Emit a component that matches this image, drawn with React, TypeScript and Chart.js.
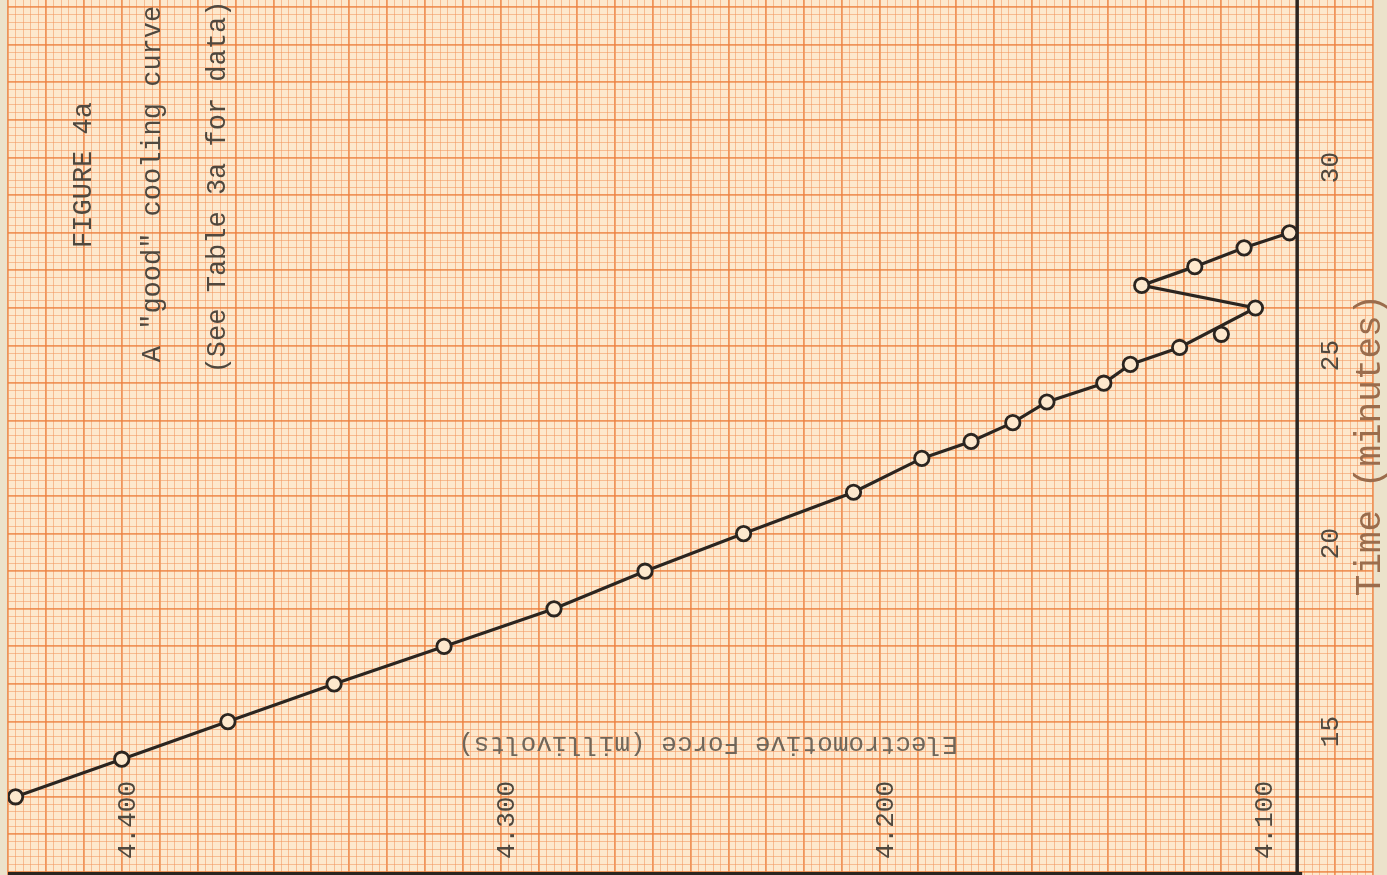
import React, { useEffect, useRef } from 'react';
import { Chart, registerables } from 'chart.js';

Chart.register(...registerables);

// ---- data ----
const emfValues = [4.428, 4.400, 4.372, 4.344, 4.315, 4.286, 4.262, 4.236, 4.207, 4.189, 4.176, 4.165, 4.156, 4.141, 4.134, 4.121, 4.101, 4.131, 4.117, 4.104, 4.092];
const timeValues = [13.0, 14.0, 15.0, 16.0, 17.0, 18.0, 19.0, 20.0, 21.1, 22.0, 22.45, 22.95, 23.5, 24.0, 24.5, 24.95, 26.0, 26.6, 27.1, 27.6, 28.0];
const strayEmf = [4.110];
const strayTime = [25.3];

const emfTickValues = [4.4, 4.3, 4.2, 4.1];
const emfTickLabels = ['4.400', '4.300', '4.200', '4.100'];
const timeTickValues = [15, 20, 25, 30];
const timeTickLabels = ['15', '20', '25', '30'];

const titleLines = ['FIGURE 4a', 'A "good" cooling curve', '(See Table 3a for data)'];
const emfAxisTitle = 'Electromotive Force (millivolts)';
const timeAxisTitle = 'Time (minutes)';

const emfAxisAt = 4.09;
const timeAxisAt = 11;

// ---- styles ----
const PAGE = '#ece2cb';
const PAPER = '#fde8cd';
const MINOR = 'rgba(242,150,95,0.55)';
const MAJOR = 'rgba(236,128,62,0.8)';
const INK = '#2b2520';
const TYPE = '#4f483f';
const FONT = '"Liberation Mono", "DejaVu Sans Mono", monospace';

const isMajorEmf = (v: number) => Math.abs(v * 100 - Math.round(v * 100)) < 1e-4;
const isMajorTime = (v: number) => Math.abs(v - Math.round(v)) < 1e-4;

function drawText(ctx: CanvasRenderingContext2D, text: string, x: number, y: number, angle: number, size: number, color: string) {
  ctx.save();
  ctx.translate(x, y);
  ctx.rotate(angle);
  ctx.font = `${size}px ${FONT}`;
  ctx.fillStyle = color;
  ctx.textAlign = 'center';
  ctx.textBaseline = 'middle';
  ctx.fillText(text, 0, 0);
  ctx.restore();
}

const paperPlugin = {
  id: 'paper',
  beforeDraw(chart: any) {
    const { ctx, chartArea: a, width, height } = chart;
    ctx.save();
    ctx.fillStyle = PAGE;
    ctx.fillRect(0, 0, width, height);
    ctx.fillStyle = PAPER;
    ctx.fillRect(a.left, a.top, a.right - a.left, a.bottom - a.top);
    ctx.restore();
  },
  beforeDatasetsDraw(chart: any) {
    const { ctx, chartArea: a, scales } = chart;
    const x = scales.x;
    const y = scales.y;
    const ax = x.getPixelForValue(emfAxisAt);
    const ay = y.getPixelForValue(timeAxisAt);
    ctx.save();
    ctx.strokeStyle = INK;
    ctx.lineCap = 'butt';
    ctx.lineWidth = 3.5;
    ctx.beginPath();
    ctx.moveTo(ax, a.top);
    ctx.lineTo(ax, ay);
    ctx.stroke();
    ctx.lineWidth = 4;
    ctx.beginPath();
    ctx.moveTo(a.left, ay + 2);
    ctx.lineTo(ax + 5, ay + 2);
    ctx.stroke();
    ctx.restore();

    const UP = -Math.PI / 2;
    emfTickValues.forEach((v, i) => {
      drawText(ctx, emfTickLabels[i], x.getPixelForValue(v) + 6, ay - 52, UP, 26, TYPE);
    });
    timeTickValues.forEach((v, i) => {
      drawText(ctx, timeTickLabels[i], ax + 34, y.getPixelForValue(v) + 10, UP, 26, TYPE);
    });
    drawText(ctx, titleLines[0], 84, 175, UP, 27, TYPE);
    drawText(ctx, titleLines[1], 153, 184, UP, 27, TYPE);
    drawText(ctx, titleLines[2], 218, 187, UP, 27, TYPE);
    drawText(ctx, emfAxisTitle, 708, 744, Math.PI, 26, '#6f665a');
    drawText(ctx, timeAxisTitle, 1370, 445, UP, 36, '#9a6c4c');
  },
};

export default function App() {
  const ref = useRef<HTMLCanvasElement>(null);
  useEffect(() => {
    const mainPoints = emfValues.map((e, i) => ({ x: e, y: timeValues[i] }));
    const strayPoints = strayEmf.map((e, i) => ({ x: e, y: strayTime[i] }));
    const chart = new Chart(ref.current as HTMLCanvasElement, {
      type: 'scatter',
      data: {
        datasets: [
          {
            data: mainPoints,
            showLine: true,
            borderColor: INK,
            borderWidth: 3.2,
            tension: 0,
            pointRadius: 7.2,
            pointBorderWidth: 2.8,
            pointBorderColor: INK,
            pointBackgroundColor: PAPER,
          },
          {
            data: strayPoints,
            showLine: false,
            pointRadius: 7.2,
            pointBorderWidth: 2.8,
            pointBorderColor: INK,
            pointBackgroundColor: PAPER,
          },
        ],
      },
      options: {
        responsive: false,
        animation: false,
        events: [],
        layout: { autoPadding: false, padding: { left: 8, right: 14, top: 0, bottom: 0 } },
        plugins: { legend: { display: false }, tooltip: { enabled: false } },
        scales: {
          x: {
            type: 'linear',
            reverse: true,
            min: 4.07,
            max: 4.43,
            border: { display: false },
            ticks: { display: false, stepSize: 0.002, includeBounds: false },
            grid: {
              drawTicks: false,
              color: (c: any) => (isMajorEmf(c.tick?.value ?? 0) ? MAJOR : MINOR),
              lineWidth: (c: any) => (isMajorEmf(c.tick?.value ?? 0) ? 1.8 : 1),
            },
          },
          y: {
            type: 'linear',
            min: 10.9202,
            max: 34.191,
            border: { display: false },
            ticks: { display: false, stepSize: 0.2, includeBounds: false },
            grid: {
              drawTicks: false,
              color: (c: any) => (isMajorTime(c.tick?.value ?? 0) ? MAJOR : MINOR),
              lineWidth: (c: any) => (isMajorTime(c.tick?.value ?? 0) ? 1.8 : 1),
            },
          },
        },
      },
      plugins: [paperPlugin],
    } as any);
    return () => chart.destroy();
  }, []);
  return (
    <div style={{ position: 'absolute', left: 0, top: 0, width: 1387, height: 875 }}>
      <canvas ref={ref} width={1387} height={875} />
    </div>
  );
}
